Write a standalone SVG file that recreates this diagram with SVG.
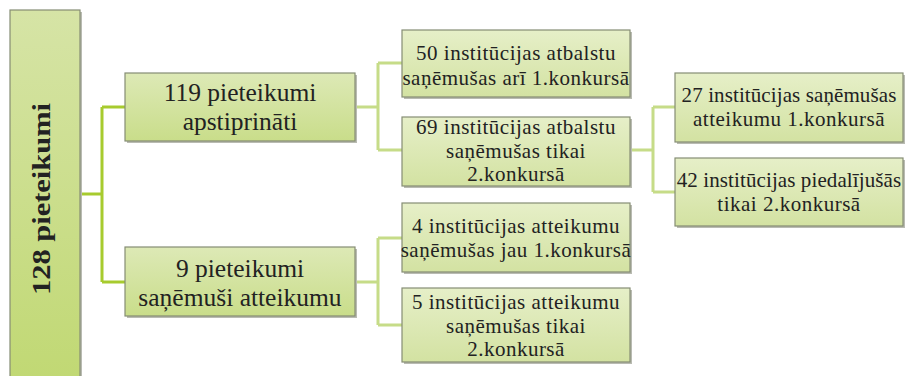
<svg xmlns="http://www.w3.org/2000/svg" width="906" height="376" viewBox="0 0 906 376">
<defs>
<linearGradient id="g" x1="0" y1="0" x2="0" y2="1">
<stop offset="0" stop-color="#dde9b6"/>
<stop offset="1" stop-color="#c9dd8a"/>
</linearGradient>
<linearGradient id="gr" x1="0" y1="0" x2="0" y2="1">
<stop offset="0" stop-color="#d6e4a6"/>
<stop offset="1" stop-color="#c0d872"/>
</linearGradient>
<linearGradient id="gl" x1="0" y1="0" x2="0" y2="1">
<stop offset="0" stop-color="#e6efc8"/>
<stop offset="1" stop-color="#d3e2a2"/>
</linearGradient>
</defs>
<style>
.box{stroke:#858d74;stroke-width:1.2}
.sh{fill:#b9bbb2}
.c1{fill:none;stroke:#a7cb2e;stroke-width:3}
.c2{fill:none;stroke:#c6dc88;stroke-width:3}
text{font-family:"Liberation Serif","Times New Roman",serif;fill:#222;text-anchor:middle}
.big{font-size:25.5px}
.sm{font-size:21px;letter-spacing:0.5px}
.tight{letter-spacing:0.1px}
</style>
<g id="connectors">
<path class="c1" d="M80 194H102M102 107V282M102 107H125M102 282H125"/>
<path class="c2" d="M355 107H378M378 63V150M378 63H402M378 150H402"/>
<path class="c2" d="M355 282H378M378 238V325M378 238H402M378 325H402"/>
<path class="c2" d="M630 150H653M653 107V192M653 107H675M653 192H675"/>
</g>
<g id="root">
<rect class="sh" x="12" y="12" width="70" height="380"/>
<rect class="box" x="10" y="10" width="70" height="380" fill="url(#gr)"/>
<text transform="translate(50,199) rotate(-90)" font-size="26" font-weight="bold" textLength="192" lengthAdjust="spacingAndGlyphs">128 pieteikumi</text>
</g>
<g id="n119">
<rect class="sh" x="127" y="75" width="230" height="68"/>
<rect class="box" x="125" y="73" width="230" height="68" fill="url(#g)"/>
<text class="big" x="240" y="101">119 pieteikumi</text>
<text class="big" x="240" y="130">apstiprināti</text>
</g>
<g id="n9">
<rect class="sh" x="127" y="249" width="230" height="69"/>
<rect class="box" x="125" y="247" width="230" height="69" fill="url(#g)"/>
<text class="big" x="240" y="277">9 pieteikumi</text>
<text class="big" x="240" y="306">saņēmuši atteikumu</text>
</g>
<g id="n50">
<rect class="sh" x="404" y="32" width="228" height="67"/>
<rect class="box" x="402" y="30" width="228" height="67" fill="url(#gl)"/>
<text class="sm" x="516" y="60">50 institūcijas atbalstu</text>
<text class="sm" x="516" y="85">saņēmušas arī 1.konkursā</text>
</g>
<g id="n69">
<rect class="sh" x="404" y="119" width="228" height="69"/>
<rect class="box" x="402" y="117" width="228" height="69" fill="url(#gl)"/>
<text class="sm" x="516" y="134">69 institūcijas atbalstu</text>
<text class="sm" x="516" y="157.5">saņēmušas tikai</text>
<text class="sm" x="516" y="181">2.konkursā</text>
</g>
<g id="n4">
<rect class="sh" x="404" y="205" width="228" height="69"/>
<rect class="box" x="402" y="203" width="228" height="69" fill="url(#gl)"/>
<text class="sm" x="516" y="233">4 institūcijas atteikumu</text>
<text class="sm" x="516" y="257">saņēmušas jau 1.konkursā</text>
</g>
<g id="n5">
<rect class="sh" x="404" y="290" width="228" height="74"/>
<rect class="box" x="402" y="288" width="228" height="74" fill="url(#gl)"/>
<text class="sm" x="516" y="309">5 institūcijas atteikumu</text>
<text class="sm" x="516" y="332.5">saņēmušas tikai</text>
<text class="sm" x="516" y="356">2.konkursā</text>
</g>
<g id="n27">
<rect class="sh" x="677" y="75" width="228" height="69"/>
<rect class="box" x="675" y="73" width="228" height="69" fill="url(#gl)"/>
<text class="sm tight" x="789" y="102">27 institūcijas saņēmušas</text>
<text class="sm" x="789" y="126">atteikumu 1.konkursā</text>
</g>
<g id="n42">
<rect class="sh" x="677" y="160" width="228" height="68"/>
<rect class="box" x="675" y="158" width="228" height="68" fill="url(#gl)"/>
<text class="sm tight" x="789" y="187">42 institūcijas piedalījušās</text>
<text class="sm" x="789" y="211">tikai 2.konkursā</text>
</g>
</svg>
